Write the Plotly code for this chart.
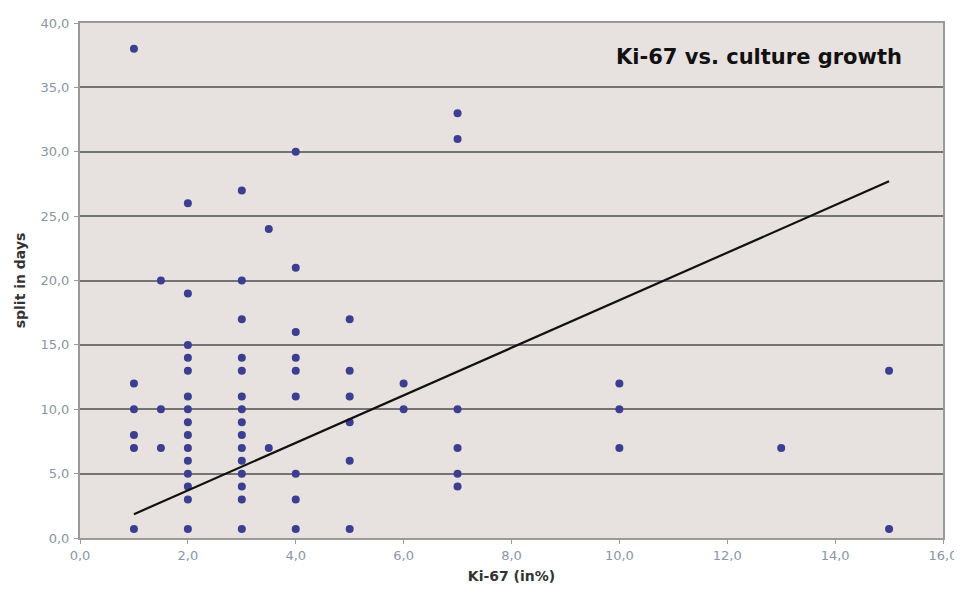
import plotly.graph_objects as go

# Data (Ki-67 in %, split in days)
ki67 = [1, 1, 1, 1, 1, 1,
        1.5, 1.5, 1.5,
        2, 2, 2, 2, 2, 2, 2, 2, 2, 2, 2, 2, 2, 2, 2,
        3, 3, 3, 3, 3, 3, 3, 3, 3, 3, 3, 3, 3, 3, 3,
        3.5, 3.5,
        4, 4, 4, 4, 4, 4, 4, 4, 4,
        5, 5, 5, 5, 5, 5,
        6, 6,
        7, 7, 7, 7, 7, 7,
        10, 10, 10,
        13,
        15, 15]
split_days = [38, 12, 10, 8, 7, 0.7,
              20, 10, 7,
              26, 19, 15, 14, 13, 11, 10, 9, 8, 7, 6, 5, 4, 3, 0.7,
              27, 20, 17, 14, 13, 11, 10, 9, 8, 7, 6, 5, 4, 3, 0.7,
              24, 7,
              30, 21, 16, 14, 13, 11, 5, 3, 0.7,
              17, 13, 11, 9, 6, 0.7,
              12, 10,
              33, 31, 10, 7, 5, 4,
              12, 10, 7,
              7,
              13, 0.7]

trend_x = [1, 15]
trend_y = [1.85, 27.7]

x_ticks = [0, 2, 4, 6, 8, 10, 12, 14, 16]
y_ticks = [0, 5, 10, 15, 20, 25, 30, 35, 40]

title_text = "Ki-67 vs. culture growth"
x_title = "Ki-67 (in%)"
y_title = "split in days"

font_family = "DejaVu Sans, Verdana, sans-serif"
tick_color = "#8a96a3"

fig = go.Figure()
fig.add_trace(go.Scatter(
    x=ki67, y=split_days, mode="markers",
    marker=dict(size=8, color="#3c3f8f", line=dict(width=0)),
    showlegend=False, hoverinfo="x+y"))
fig.add_trace(go.Scatter(
    x=trend_x, y=trend_y, mode="lines",
    line=dict(color="#111111", width=2.2),
    showlegend=False, hoverinfo="skip"))

fig.update_layout(
    width=946, height=576,
    margin=dict(l=72, r=11, t=15, b=46),
    paper_bgcolor="white",
    plot_bgcolor="#e7e1df",
    separators=",.",
    font=dict(family=font_family, size=13, color=tick_color),
    annotations=[dict(
        text="<b>" + title_text + "</b>",
        xref="paper", yref="paper", x=0.787, y=0.934,
        xanchor="center", yanchor="middle", showarrow=False,
        font=dict(family=font_family, size=21, color="#111111"))],
)

fig.update_xaxes(
    range=[0, 16], tickvals=x_ticks, tickformat=".1f",
    showgrid=False, zeroline=False, automargin=False,
    ticklabeloverflow="allow",
    showline=True, linecolor="#9a9a9a", linewidth=2, mirror=True,
    ticks="outside", ticklen=4, tickcolor="#9a9a9a",
    tickfont=dict(size=13, color=tick_color),
    title=dict(text="<b>" + x_title + "</b>", standoff=18,
               font=dict(size=14, color="#333333")),
)
fig.update_yaxes(
    range=[0, 40], tickvals=y_ticks, tickformat=".1f",
    showgrid=True, gridcolor="#747474", gridwidth=2, zeroline=False,
    automargin=False, ticklabelstandoff=2,
    showline=True, linecolor="#9a9a9a", linewidth=2, mirror=True,
    ticks="outside", ticklen=4, tickcolor="#9a9a9a",
    tickfont=dict(size=13, color=tick_color),
    title=dict(text="<b>" + y_title + "</b>", standoff=12,
               font=dict(size=14, color="#333333")),
)

fig.write_html("out.html")
